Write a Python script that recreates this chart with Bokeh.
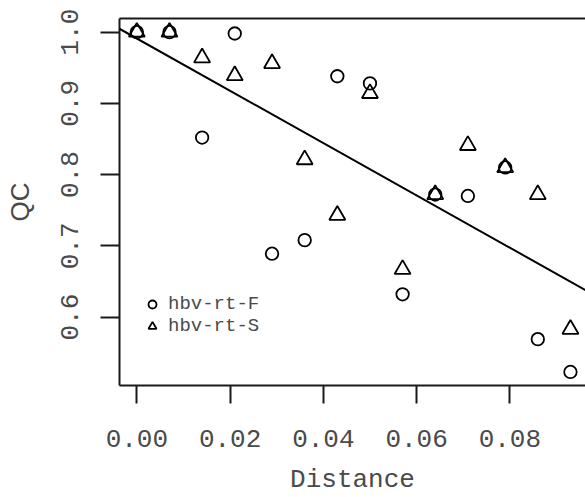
from bokeh.plotting import figure
from bokeh.models import (Range1d, FixedTicker, PrintfTickFormatter, LinearAxis,
                          Slope, Legend, LegendItem)
from bokeh.embed import file_html
from bokeh.resources import INLINE

# ---- data ----
distance = [0.000, 0.007, 0.014, 0.021, 0.029, 0.036, 0.043,
            0.050, 0.057, 0.064, 0.071, 0.079, 0.086, 0.093]
qc_f = [1.000, 1.000, 0.852, 0.998, 0.689, 0.708, 0.938,
        0.928, 0.632, 0.772, 0.770, 0.810, 0.569, 0.523]
qc_s = [1.000, 1.000, 0.964, 0.939, 0.956, 0.821, 0.743,
        0.914, 0.667, 0.772, 0.841, 0.810, 0.772, 0.583]
series_names = ["hbv-rt-F", "hbv-rt-S"]
x_title = "Distance"
y_title = "QC"
x_ticks = [0.00, 0.02, 0.04, 0.06, 0.08]
y_ticks = [0.6, 0.7, 0.8, 0.9, 1.0]
fit_intercept = 0.991
fit_slope = -3.67

MONO = "Liberation Mono"
INK = "#1a1a1a"
TXT = "#4a4a4a"

p = figure(width=585, height=497, output_backend="svg", toolbar_location=None,
           x_range=Range1d(-0.00372, 0.09623), y_range=Range1d(0.50399, 1.01908),
           min_border_left=119, min_border_right=0, min_border_top=18,
           min_border_bottom=112, x_axis_label=x_title, y_axis_label=y_title)
p.outline_line_color = None
p.grid.visible = False
p.background_fill_color = "white"
p.border_fill_color = "white"

# axes
for ax in (p.xaxis[0], p.yaxis[0]):
    ax.axis_line_color = INK
    ax.axis_line_width = 2
    ax.major_tick_line_color = INK
    ax.major_tick_line_width = 2
    ax.major_tick_in = 0
    ax.minor_tick_line_color = None
    ax.major_label_text_font = MONO
    ax.major_label_text_font_size = "26px"
    ax.major_label_text_color = TXT
    ax.axis_label_text_font_style = "normal"
    ax.axis_label_text_color = TXT
    ax.axis_label_text_font_size = "26px"

p.xaxis.ticker = FixedTicker(ticks=x_ticks)
p.xaxis.formatter = PrintfTickFormatter(format="%.2f")
p.xaxis.major_tick_out = 18
p.xaxis.major_label_standoff = 26
p.xaxis.axis_label_standoff = 15
p.xaxis.axis_label_text_font = MONO

p.yaxis.ticker = FixedTicker(ticks=y_ticks)
p.yaxis.formatter = PrintfTickFormatter(format="%.1f")
p.yaxis.major_tick_out = 19
p.yaxis.major_label_standoff = 22
p.yaxis.major_label_orientation = "vertical"
p.yaxis.axis_label_standoff = 24
p.yaxis.axis_label_text_font = "Liberation Sans"

# top border of the box
top = LinearAxis(ticker=FixedTicker(ticks=[]), axis_line_color=INK, axis_line_width=2,
                 major_tick_line_color=None, minor_tick_line_color=None,
                 major_label_text_font_size="0px")
p.add_layout(top, "above")

# fitted line
p.add_layout(Slope(gradient=fit_slope, y_intercept=fit_intercept,
                   line_color="black", line_width=2))

r_f = p.scatter(distance, qc_f, marker="circle", size=12.5, fill_color=None,
                line_color="black", line_width=1.8)
r_s = p.scatter(distance, qc_s, marker="triangle", size=16, fill_color=None,
                line_color="black", line_width=1.8)

legend = Legend(items=[LegendItem(label=series_names[0], renderers=[r_f]),
                       LegendItem(label=series_names[1], renderers=[r_s])],
                location=(23, 48), margin=0, padding=0, spacing=0,
                glyph_width=20, glyph_height=22, label_standoff=6,
                label_text_font=MONO, label_text_font_size="19px",
                label_text_color=TXT, border_line_color=None,
                background_fill_alpha=0)
p.add_layout(legend, "center")

open("out.html", "w").write(file_html(p, INLINE))
